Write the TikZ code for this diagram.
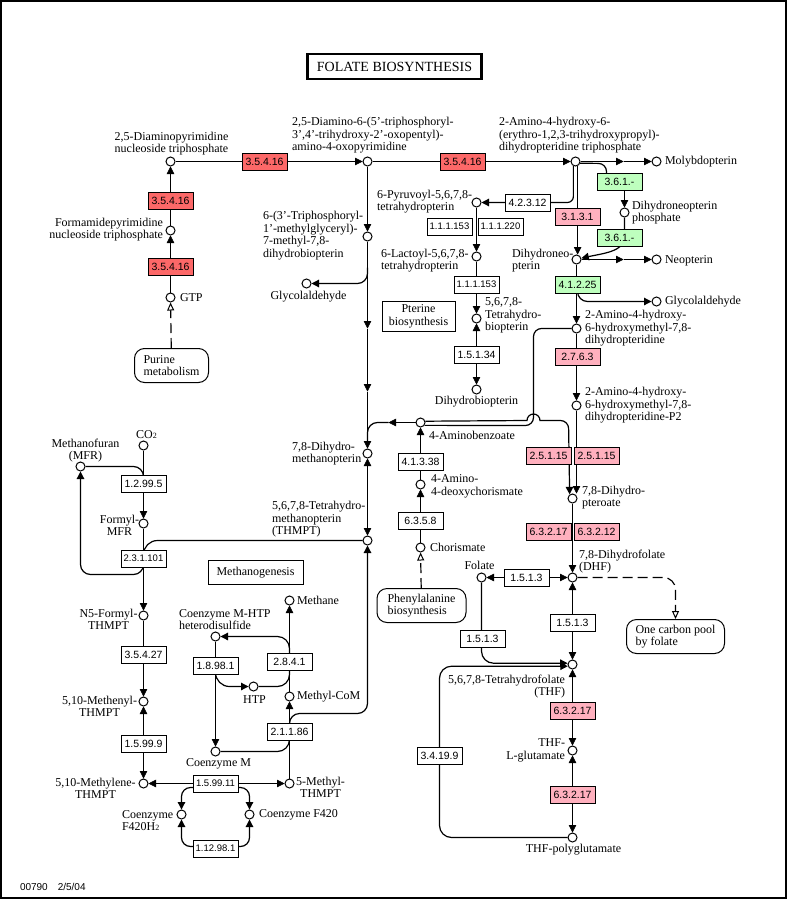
\documentclass[tikz,border=0pt]{standalone}
\usepackage{fontspec}
\setmainfont{Liberation Serif}
\setsansfont{Liberation Sans}
\usetikzlibrary{arrows.meta,backgrounds}
\definecolor{ecred}{RGB}{252,104,104}
\definecolor{ecpink}{RGB}{255,176,190}
\definecolor{ecgreen}{RGB}{190,255,190}
\tikzset{
  cpd/.style={circle,draw,fill=white,minimum size=9pt,inner sep=0pt},
  ec/.style={draw,fill=white,minimum width=45pt,minimum height=17pt,inner sep=1pt,
    font=\sffamily\fontsize{10.5}{12}\selectfont},
  ecsm/.style={ec,font=\sffamily\fontsize{9.5}{11}\selectfont},
  ecr/.style={ec,fill=ecred},
  ecp/.style={ec,fill=ecpink},
  ecg/.style={ec,fill=ecgreen},
  lbl/.style={inner sep=0pt,font=\fontsize{12}{12.5}\selectfont,align=left},
  mapr/.style={draw,fill=white,rounded corners=10pt,inner sep=0pt,align=left,
    font=\fontsize{12}{12.5}\selectfont},
  mapb/.style={draw,fill=white,inner sep=0pt,align=center,
    font=\fontsize{12}{12.5}\selectfont},
  rnd/.style={rounded corners=#1,line width=1.2pt},
  dsh/.style={dash pattern=on 10pt off 5pt,line width=1.2pt},
  opn/.style={-{Triangle[open,length=8pt,width=7pt,line width=1pt]}}
}

\begin{document}
\begin{tikzpicture}[x=1pt,y=-1pt,line width=1pt,>={Triangle[length=7.5pt,width=7.5pt]}]
\useasboundingbox (0.5,0.5) rectangle (787.5,899.5);
\draw[line width=2pt] (1.5,1.5) rectangle (786,898);
\node[draw,line width=2.5pt,minimum width=174pt,minimum height=25pt,inner sep=0pt,
  font=\fontsize{14}{14}\selectfont] (title) at (395,67) {FOLATE BIOSYNTHESIS};

% compounds
\node[cpd] (dapy) at (171,162) {};
\node[cpd] (dam) at (368,162) {};
\node[cpd] (ahtp) at (576,162) {};
\node[cpd] (molyb) at (657,162) {};
\node[cpd] (formam) at (171,231) {};
\node[cpd] (gtp) at (171,298) {};
\node[cpd] (tpmg) at (368,237) {};
\node[cpd] (glyc1) at (307,284) {};
\node[cpd] (dhmpt) at (368,454) {};
\node[cpd] (thmpt) at (368,541) {};
\node[cpd] (pyru) at (477,203) {};
\node[cpd] (lact) at (477,257) {};
\node[cpd] (bh4) at (477,319) {};
\node[cpd] (bh2) at (477,390) {};
\node[cpd] (dnp) at (625,213) {};
\node[cpd] (dhn) at (577,260) {};
\node[cpd] (neo) at (657,260) {};
\node[cpd] (glyc2) at (657,302) {};
\node[cpd] (hmdp) at (577,329) {};
\node[cpd] (hmdpp) at (577,406) {};
\node[cpd] (pab) at (421,423) {};
\node[cpd] (adc) at (421,485) {};
\node[cpd] (chor) at (421,548) {};
\node[cpd] (dhp) at (573,499) {};
\node[cpd] (dhf) at (573,578) {};
\node[cpd] (fol) at (482,578) {};
\node[cpd] (thf) at (573,665) {};
\node[cpd] (thfglu) at (573,751) {};
\node[cpd] (thfpg) at (573,838) {};
\node[cpd] (co2) at (144,446) {};
\node[cpd] (mfr) at (81,467) {};
\node[cpd] (fmfr) at (144,524) {};
\node[cpd] (n5f) at (144,616) {};
\node[cpd] (meny) at (144,702) {};
\node[cpd] (mely) at (144,784) {};
\node[cpd] (f420h) at (182,815) {};
\node[cpd] (f420) at (250,815) {};
\node[cpd] (mthmpt) at (290,784) {};
\node[cpd] (methane) at (290,601) {};
\node[cpd] (hds) at (216,637) {};
\node[cpd] (htp) at (254,687) {};
\node[cpd] (mcom) at (290,697) {};
\node[cpd] (com) at (216,752) {};

% enzymes
\node[ecr] (e1) at (265,162) {3.5.4.16};
\node[ecr] (e2) at (463,162) {3.5.4.16};
\node[ecr] (e3) at (171,201) {3.5.4.16};
\node[ecr] (e4) at (171,267) {3.5.4.16};
\node[ec] (e5) at (528,203) {4.2.3.12};
\node[ecp] (e6) at (578,217) {3.1.3.1};
\node[ecg] (e7) at (620,182) {3.6.1.-};
\node[ecg] (e8) at (620,238) {3.6.1.-};
\node[ecsm] (e9) at (450,227) {1.1.1.153};
\node[ecsm] (e10) at (501,227) {1.1.1.220};
\node[ecsm] (e11) at (477,285) {1.1.1.153};
\node[ec] (e12) at (477,355) {1.5.1.34};
\node[ecg] (e13) at (578,285) {4.1.2.25};
\node[ecp] (e14) at (578,357) {2.7.6.3};
\node[ecp] (e15) at (549,456) {2.5.1.15};
\node[ecp] (e16) at (597,456) {2.5.1.15};
\node[ecp] (e17) at (549,532) {6.3.2.17};
\node[ecp] (e18) at (597,532) {6.3.2.12};
\node[ec] (e19) at (421,462) {4.1.3.38};
\node[ec] (e20) at (421,521) {6.3.5.8};
\node[ec] (e21) at (527,578) {1.5.1.3};
\node[ec] (e22) at (573,623) {1.5.1.3};
\node[ec] (e23) at (483,639) {1.5.1.3};
\node[ec] (e24) at (440,756) {3.4.19.9};
\node[ecp] (e25) at (573,711) {6.3.2.17};
\node[ecp] (e26) at (573,795) {6.3.2.17};
\node[ec] (e27) at (144,484) {1.2.99.5};
\node[ecsm] (e28) at (144,559) {2.3.1.101};
\node[ec] (e29) at (144,655) {3.5.4.27};
\node[ec] (e30) at (144,744) {1.5.99.9};
\node[ecsm] (e31) at (216,784) {1.5.99.11};
\node[ecsm] (e32) at (216,849) {1.12.98.1};
\node[ec] (e33) at (216,666) {1.8.98.1};
\node[ec] (e34) at (290,662) {2.8.4.1};
\node[ec] (e35) at (290,732) {2.1.1.86};

% maps
\node[mapr,minimum width=74pt,minimum height=34pt] (purine) at (172,366) {Purine\\metabolism};
\node[mapr,minimum width=89pt,minimum height=34pt] (phe) at (422,606) {Phenylalanine\\biosynthesis};
\node[mapr,minimum width=98pt,minimum height=34pt] (ocp) at (676,637) {One carbon pool\\by folate};
\node[mapb,minimum width=73pt,minimum height=30pt] (pterine) at (419,317) {Pterine\\biosynthesis};
\node[mapb,minimum width=95pt,minimum height=24pt] (mgen) at (256,573) {Methanogenesis};

% labels
\node[lbl,align=center] (tdapy) at (172,144) {2,5-Diaminopyrimidine\\nucleoside triphosphate};
\node[lbl,anchor=west] (tdam) at (292,136) {2,5-Diamino-6-(5'-triphosphoryl-\\3',4'-trihydroxy-2'-oxopentyl)-\\amino-4-oxopyrimidine};
\node[lbl,anchor=west] (tahtp) at (499,136) {2-Amino-4-hydroxy-6-\\(erythro-1,2,3-trihydroxypropyl)-\\dihydropteridine triphosphate};
\node[lbl,anchor=west] (tmolyb) at (665,162) {Molybdopterin};
\node[lbl,align=right,anchor=east] (tformam) at (164,230) {Formamidepyrimidine\\nucleoside triphosphate};
\node[lbl,anchor=west] (tgtp) at (180,298) {GTP};
\node[lbl,anchor=west] (ttpmg) at (263,236) {6-(3'-Triphosphoryl-\\1'-methylglyceryl)-\\7-methyl-7,8-\\dihydrobiopterin};
\node[lbl] (tglyc1) at (309,297) {Glycolaldehyde};
\node[lbl,anchor=west] (tpyru) at (377,202) {6-Pyruvoyl-5,6,7,8-\\tetrahydropterin};
\node[lbl,anchor=west] (tlact) at (381,261) {6-Lactoyl-5,6,7,8-\\tetrahydropterin};
\node[lbl,anchor=west] (tbh4) at (485,316) {5,6,7,8-\\Tetrahydro-\\biopterin};
\node[lbl] (tbh2) at (477,402) {Dihydrobiopterin};
\node[lbl,anchor=west] (tdnp) at (632,213) {Dihydroneopterin\\phosphate};
\node[lbl,anchor=west] (tdhn) at (512,261) {Dihydroneo-\\pterin};
\node[lbl,anchor=west] (tneo) at (665,261) {Neopterin};
\node[lbl,anchor=west] (tglyc2) at (665,302) {Glycolaldehyde};
\node[lbl,anchor=west] (thmdp) at (585,329) {2-Amino-4-hydroxy-\\6-hydroxymethyl-7,8-\\dihydropteridine};
\node[lbl,anchor=west] (thmdpp) at (585,406) {2-Amino-4-hydroxy-\\6-hydroxymethyl-7,8-\\dihydropteridine-P2};
\node[lbl,anchor=west] (tpab) at (429,436) {4-Aminobenzoate};
\node[lbl,anchor=west] (tadc) at (431,487) {4-Amino-\\4-deoxychorismate};
\node[lbl,anchor=west] (tchor) at (430,548) {Chorismate};
\node[lbl,anchor=west] (tdhp) at (582,498) {7,8-Dihydro-\\pteroate};
\node[lbl,anchor=west] (tdhf) at (579,562) {7,8-Dihydrofolate\\(DHF)};
\node[lbl] (tfol) at (480,566) {Folate};
\node[lbl,align=right,anchor=east] (tthf) at (566,687) {5,6,7,8-Tetrahydrofolate\\(THF)};
\node[lbl,align=right,anchor=east] (tthfglu) at (566,751) {THF-\\L-glutamate};
\node[lbl] (tthfpg) at (574,850) {THF-polyglutamate};
\node[lbl,anchor=west] (tdhmpt) at (292,454) {7,8-Dihydro-\\methanopterin};
\node[lbl,anchor=west] (tthmpt) at (272,520) {5,6,7,8-Tetrahydro-\\methanopterin\\(THMPT)};
\node[lbl,align=center] (tmfr) at (86,451) {Methanofuran\\(MFR)};
\node[lbl] (tco2) at (147,435) {CO{\fontsize{8}{8}\selectfont 2}};
\node[lbl,align=center] (tfmfr) at (120,526) {Formyl-\\MFR};
\node[lbl,align=center] (tn5f) at (109,620) {N5-Formyl-\\THMPT};
\node[lbl,align=center] (tmeny) at (100,707) {5,10-Methenyl-\\THMPT};
\node[lbl,align=center] (tmely) at (96,789) {5,10-Methylene-\\THMPT};
\node[lbl,anchor=west] (tf420h) at (122,821) {Coenzyme\\F420H{\fontsize{8}{8}\selectfont 2}};
\node[lbl,anchor=west] (tf420) at (259,815) {Coenzyme F420};
\node[lbl,align=center] (tmthmpt) at (321,788) {5-Methyl-\\THMPT};
\node[lbl] (tcom) at (219,764) {Coenzyme M};
\node[lbl,anchor=west] (thds) at (179,620) {Coenzyme M-HTP\\heterodisulfide};
\node[lbl,anchor=west] (tmethane) at (297,601) {Methane};
\node[lbl] (thtp) at (255,700) {HTP};
\node[lbl,anchor=west] (tmcom) at (297,697) {Methyl-CoM};
\node[anchor=west,inner sep=0pt,font=\sffamily\fontsize{10}{10}\selectfont] (footer) at (20,887) {00790\quad 2/5/04};

% bends and mid arrows
\coordinate (m1) at (624,162);
\coordinate (m2) at (624,260);
\coordinate (m3) at (368,329);
\coordinate (m4) at (368,392);
\coordinate (m5) at (389,423);
\coordinate (k1) at (607,164);
\coordinate (k3) at (368,268);
\coordinate (k4) at (368,442);
\coordinate (k5) at (534,329);
\coordinate (k6) at (534,426);
\coordinate (k7) at (527.5,421);
\coordinate (k8) at (569,421);
\coordinate (k10) at (144,575);
\coordinate (k11) at (216,788);
\coordinate (k12) at (216,847);
\coordinate (k13) at (290,728);
\coordinate (k14) at (290,714);
\coordinate (k15) at (290,660);
\coordinate (k16) at (290,670);

\begin{pgfonlayer}{background}
% pterin part
\draw[->] (dapy) -- (dam);
\draw[->] (dam) -- (ahtp);
\draw[->] (formam) -- (dapy);
\draw[->] (gtp) -- (formam);
\draw[dsh,opn] (purine) -- (gtp);
\draw[->] (ahtp) -- (m1);
\draw[->] (m1) -- (molyb);
\draw[->,rnd=6pt] (ahtp.-115) -- (ahtp.-115 |- pyru) -- (pyru);
\draw[->] (ahtp.-65) -- (ahtp.-65 |- dhn.north);
\draw[rnd=8pt] (ahtp.-20) -- (k1) -- (k1 |- e7);
\draw[->] (e7.south -| dnp) -- (dnp);
\draw[->,line width=1.2pt] (dnp) -- (dnp |- e8) .. controls (625,252) and (603,254) .. (dhn.15);
\draw[->] (dhn) -- (m2);
\draw[->] (m2) -- (neo);
\draw[->] (dhn) -- (hmdp);
\draw[->,rnd=10pt] (e13.center) -- (e13.center |- glyc2) -- (glyc2);
\draw[->] (hmdp) -- (hmdpp);
\draw[->] (pyru) -- (lact);
\draw[->] (lact) -- (bh4);
\draw[<->] (bh4) -- (bh2);
% methanopterin column
\draw[->] (dam) -- (tpmg);
\draw[->] (tpmg) -- (m3);
\draw[->] (m3) -- (m4);
\draw[->] (m4) -- (dhmpt);
\draw[->,rnd=10pt] (k3) -- (k3 |- glyc1) -- (glyc1);
\draw[<->] (dhmpt) -- (thmpt);
% aminobenzoate
\draw[->] (pab) -- (m5);
\draw[rnd=10pt] (m5) -- (m5 -| dhmpt) -- (k4);
\draw[->] (adc) -- (pab);
\draw[->] (chor) -- (adc);
\draw[dsh,opn] (phe) -- (chor);
\draw[rnd=8pt] (hmdp) -- (k5) -- (k6) -- (pab.-35);
\draw[->,line width=1.2pt] (pab.15) -- (k7) arc[start angle=180,end angle=360,radius=6.5]
  [rounded corners=8pt] -- (k8) -- (dhp.125);
\draw[->] (hmdpp) -- (hmdpp |- dhp.north);
% folate
\draw[->] (dhp) -- (dhf);
\draw[<->] (fol) -- (dhf);
\draw[<->] (dhf) -- (thf);
\draw[->,rnd=12pt] (fol) -- (fol |- thf.165) -- (thf.165);
\draw[dsh,opn,rounded corners=12pt] (dhf) -- (dhf -| ocp) -- (ocp);
\draw[->,rnd=12pt] (thfpg) -- (thfpg -| e24) -- (e24 |- thf.200) -- (thf.200);
\draw[<->] (thf) -- (thfglu);
\draw[<->] (thfglu) -- (thfpg);
% methanogenesis
\draw[rnd=14pt] (thmpt) -- (thmpt -| fmfr) -- (e28.center);
\draw[->] (co2) -- (fmfr);
\draw[rnd=10pt] (mfr) -- (mfr -| co2) -- (e27.center);
\draw[->,rnd=10pt] (e28.center) -- (k10) -- (k10 -| mfr) -- (mfr);
\draw[->] (fmfr) -- (n5f);
\draw[->] (n5f) -- (meny);
\draw[<->] (meny) -- (mely);
\draw[<->] (mely) -- (mthmpt);
\draw[->,rnd=9pt] (k11) -- (k11 -| f420h) -- (f420h);
\draw[->,rnd=9pt] (k11) -- (k11 -| f420) -- (f420);
\draw[->,rnd=9pt] (k12) -- (k12 -| f420h) -- (f420h);
\draw[->,rnd=9pt] (k12) -- (k12 -| f420) -- (f420);
\draw[->] (mthmpt) -- (mcom);
\draw[->] (mcom) -- (methane);
\draw[->] (hds) -- (com);
\draw[rnd=12pt] (com) -- (com -| mcom) -- (e35.center);
\draw[->,rnd=10pt] (k13) -- (k14) -- (k14 -| thmpt) -- (thmpt);
\draw[->,rnd=12pt] (k15) -- (k15 |- hds) -- (hds);
\draw[rnd=12pt] (htp) -- (htp -| mcom) -- (k16);
\draw[->,rnd=14pt] (hds |- e33) -- (hds |- htp) -- (htp);
\end{pgfonlayer}
\end{tikzpicture}
\end{document}
